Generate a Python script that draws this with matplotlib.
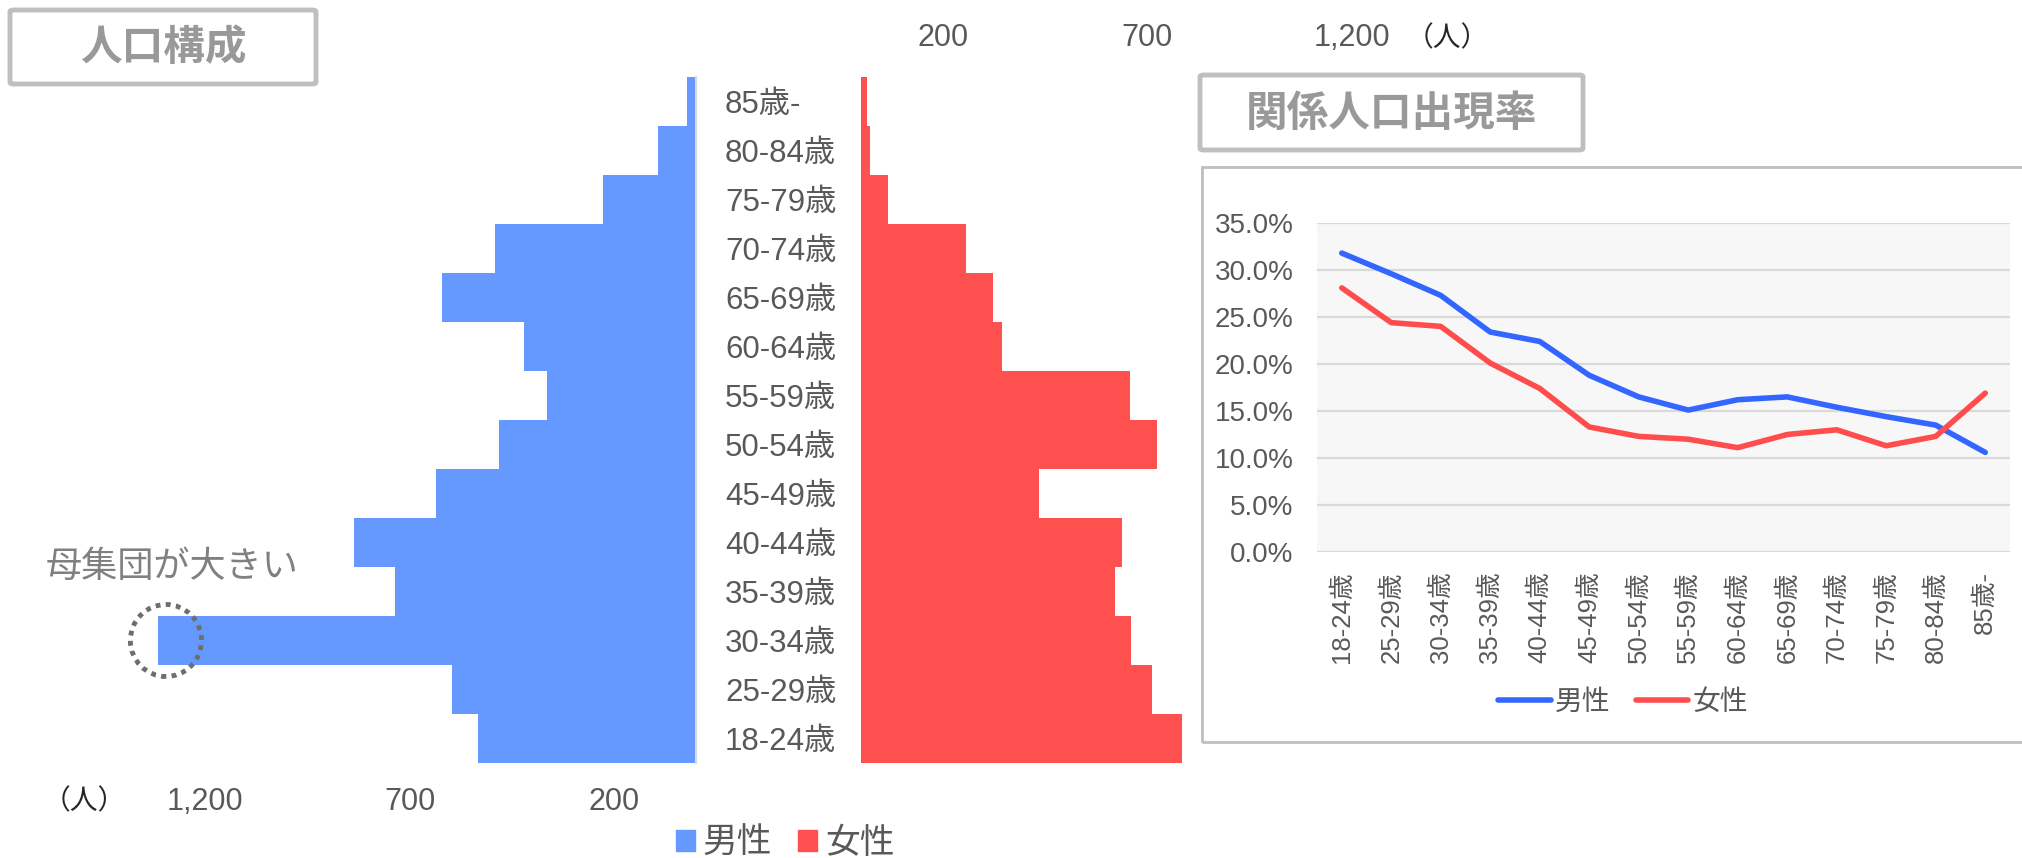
import numpy as np
import matplotlib
matplotlib.use("Agg")
import matplotlib.pyplot as plt
from matplotlib.patches import Ellipse, FancyBboxPatch, Patch
from matplotlib.ticker import FixedLocator, PercentFormatter

plt.rcParams['font.family'] = ['Liberation Sans', 'Noto Sans CJK JP', 'DejaVu Sans']

# --- données ---
ages = ['18-24歳', '25-29歳', '30-34歳', '35-39歳', '40-44歳', '45-49歳', '50-54歳',
        '55-59歳', '60-64歳', '65-69歳', '70-74歳', '75-79歳', '80-84歳', '85歳-']
male_pop = [533, 597, 1316, 735, 836, 636, 482, 365, 421, 620, 492, 228, 94, 21]
female_pop = [784, 712, 661, 622, 638, 435, 724, 657, 345, 323, 256, 65, 22, 14]
pop_ticks = [200, 700, 1200]
pop_tick_labels = ['200', '700', '1,200']

male_rate = [31.8, 29.6, 27.3, 23.4, 22.4, 18.8, 16.5, 15.1, 16.2, 16.5, 15.4, 14.4, 13.5, 10.6]
female_rate = [28.1, 24.4, 24.0, 20.1, 17.4, 13.3, 12.3, 12.0, 11.1, 12.5, 13.0, 11.3, 12.3, 16.9]

BLUE_BAR = '#6699FF'
RED_BAR = '#FF5050'
BLUE_LINE = '#3366FF'
RED_LINE = '#FF4D4D'
TXT = '#595959'

W, H = 2022, 858


def fx(px):
    return px / W


def fy(py):
    return 1 - py / H


fig = plt.figure(figsize=(W / 100, H / 100), dpi=100)

y = np.arange(len(ages))

# --- pyramide : hommes ---
ax_m = fig.add_axes([fx(123.4), fy(763), (696 - 123.4) / W, (763 - 77) / H])
ax_m.barh(y, male_pop, height=1.0, color=BLUE_BAR, label='男性')
ax_m.set_xlim(1400, 0)
ax_m.set_ylim(-0.5, len(ages) - 0.5)
ax_m.patch.set_alpha(0)
for s in ['top', 'left', 'bottom']:
    ax_m.spines[s].set_visible(False)
ax_m.spines['right'].set_color('#D9D9D9')
ax_m.spines['right'].set_linewidth(1.5)
ax_m.set_yticks([])
ax_m.xaxis.set_major_locator(FixedLocator(pop_ticks))
ax_m.set_xticklabels(pop_tick_labels)
ax_m.tick_params(axis='x', length=0, pad=17, labelsize=22, labelcolor=TXT)

# cercle pointillé sur 30-34
ax_m.add_patch(Ellipse((1296, 2), 174, 1.47, fill=False, edgecolor='#6E6E6E',
                       linewidth=3.5, linestyle=(0, (1, 1.1)), clip_on=False, zorder=5))

# --- pyramide : femmes ---
ax_f = fig.add_axes([fx(861), fy(763), (1433.6 - 861) / W, (763 - 77) / H])
ax_f.barh(y, female_pop, height=1.0, color=RED_BAR, label='女性')
ax_f.set_xlim(0, 1400)
ax_f.set_ylim(-0.5, len(ages) - 0.5)
ax_f.patch.set_alpha(0)
for s in ax_f.spines.values():
    s.set_visible(False)
ax_f.set_yticks(y)
ax_f.set_yticklabels(ages)
for lab in ax_f.get_yticklabels():
    lab.set_horizontalalignment('left')
ax_f.tick_params(axis='y', length=0, pad=98, labelsize=22.5, labelcolor=TXT)
ax_f.xaxis.tick_top()
ax_f.xaxis.set_major_locator(FixedLocator(pop_ticks))
ax_f.set_xticklabels(pop_tick_labels)
ax_f.tick_params(axis='x', length=0, pad=17, labelsize=22, labelcolor=TXT)

fig.text(fx(84), fy(802), '（人）', ha='center', va='center', fontsize=20, color='#262626')
fig.text(fx(1447), fy(39), '（人）', ha='center', va='center', fontsize=20, color='#262626')
fig.text(fx(172), fy(567), '母集団が大きい', ha='center', va='center', fontsize=26, color='#808080')

fig.legend(handles=[Patch(color=BLUE_BAR, label='男性'), Patch(color=RED_BAR, label='女性')],
           loc='center', bbox_to_anchor=(fx(785), fy(843)), ncol=2, frameon=False,
           fontsize=25, handlelength=0.55, handleheight=0.55, handletextpad=0.22,
           columnspacing=0.75, labelcolor=TXT)

# --- titres encadrés ---
for (x0, y0, x1, y1, title) in [(10, 10, 316, 84, '人口構成'), (1200, 75, 1583, 150, '関係人口出現率')]:
    fig.patches.append(FancyBboxPatch((fx(x0), fy(y1)), fx(x1) - fx(x0), fy(y0) - fy(y1),
                                      boxstyle='round,pad=0,rounding_size=0.002',
                                      transform=fig.transFigure, facecolor='white',
                                      edgecolor='#BFBFBF', linewidth=3.5))
    fig.text(fx((x0 + x1) / 2), fy((y0 + y1) / 2 + 2), title, ha='center', va='center',
             fontsize=30, fontweight='bold', color='#999999')

# --- cadre du graphique linéaire ---
fig.patches.append(plt.Rectangle((fx(1202), fy(742)), fx(2040) - fx(1202), fy(167) - fy(742),
                                 transform=fig.transFigure, facecolor='none',
                                 edgecolor='#BFBFBF', linewidth=2))

# --- graphique linéaire ---
ax_l = fig.add_axes([fx(1317), fy(552), (2010 - 1317) / W, (552 - 223) / H])
ax_l.set_facecolor('#F7F7F7')
x = np.arange(len(ages))
ax_l.plot(x, male_rate, color=BLUE_LINE, linewidth=4, label='男性', solid_capstyle='round')
ax_l.plot(x, female_rate, color=RED_LINE, linewidth=4, label='女性', solid_capstyle='round')
ax_l.set_xlim(-0.5, len(ages) - 0.5)
ax_l.set_ylim(0, 35)
ax_l.set_yticks(np.arange(0, 36, 5))
ax_l.yaxis.set_major_formatter(PercentFormatter(xmax=100, decimals=1))
ax_l.grid(axis='y', color='#D9D9D9', linewidth=1.6)
ax_l.set_axisbelow(True)
for s in ax_l.spines.values():
    s.set_visible(False)
ax_l.set_xticks(x)
ax_l.set_xticklabels(ages, rotation=90, va='top', ha='center')
ax_l.tick_params(axis='x', length=0, pad=14, labelsize=18.5, labelcolor=TXT)
ax_l.tick_params(axis='y', length=0, pad=17, labelsize=20, labelcolor=TXT)
ax_l.legend(loc='center', bbox_to_anchor=(fx(1623), fy(703)), bbox_transform=fig.transFigure,
            ncol=2, frameon=False, fontsize=20, handlelength=1.9, handletextpad=0.15,
            columnspacing=0.9, labelcolor=TXT)

fig.savefig('out.png', dpi=100)
